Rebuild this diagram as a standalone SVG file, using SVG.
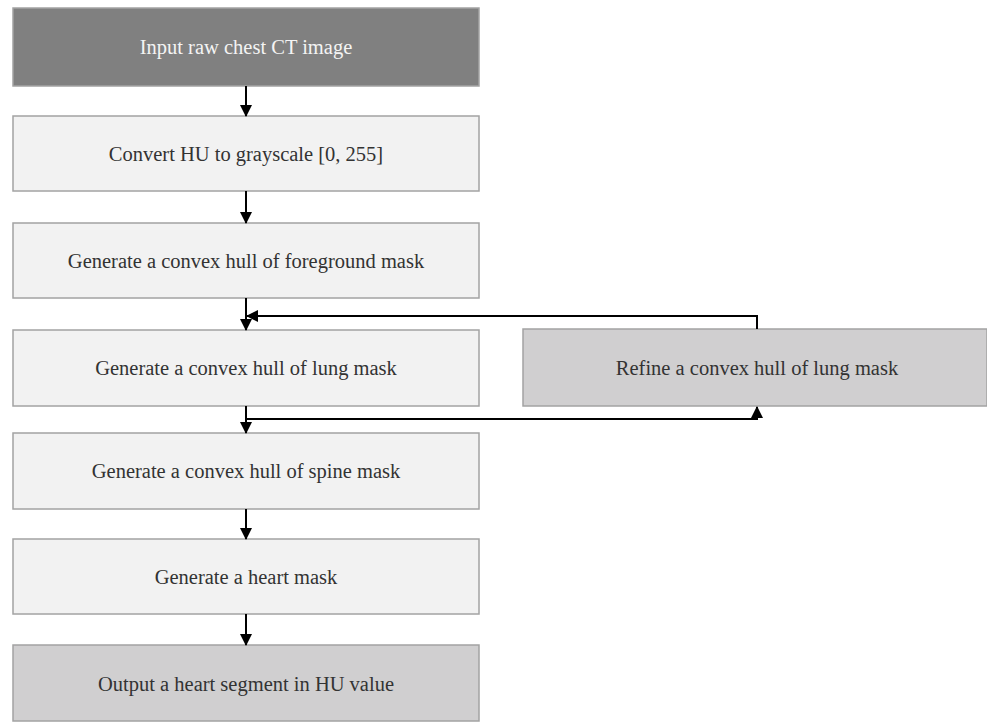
<svg xmlns="http://www.w3.org/2000/svg" width="987" height="722" viewBox="0 0 987 722">
<style>
.box{stroke:#a3a3a3;stroke-width:1.5}
.light{fill:#f2f2f2}
.gray{fill:#d0cfd0}
.dark{fill:#808080}
.t{font-family:"Liberation Serif","DejaVu Serif",serif;font-size:20.5px;text-anchor:middle;fill:#333}
.tw{fill:#f4f4f4}
.c{stroke:#000;stroke-width:2;fill:none}
</style>
<defs>
<marker id="ah" markerWidth="12" markerHeight="12" refX="11" refY="6" orient="auto" markerUnits="userSpaceOnUse">
<path d="M0,0 L12,6 L0,12 Z" fill="#000"/>
</marker>
</defs>
<rect width="987" height="722" fill="#fff"/>
<g id="n1"><rect class="box dark" x="13" y="8" width="466" height="78"/><text class="t tw" x="246" y="54">Input raw chest CT image</text></g>
<g id="n2"><rect class="box light" x="13" y="116" width="466" height="75"/><text class="t" x="246" y="161">Convert HU to grayscale [0, 255]</text></g>
<g id="n3"><rect class="box light" x="13" y="223" width="466" height="75"/><text class="t" x="246" y="268">Generate a convex hull of foreground mask</text></g>
<g id="n4"><rect class="box light" x="13" y="330" width="466" height="76"/><text class="t" x="246" y="375">Generate a convex hull of lung mask</text></g>
<g id="n5"><rect class="box light" x="13" y="433" width="466" height="76"/><text class="t" x="246" y="478">Generate a convex hull of spine mask</text></g>
<g id="n6"><rect class="box light" x="13" y="539" width="466" height="75"/><text class="t" x="246" y="584">Generate a heart mask</text></g>
<g id="n7"><rect class="box gray" x="13" y="645" width="466" height="76"/><text class="t" x="246" y="691">Output a heart segment in HU value</text></g>
<g id="n8"><rect class="box gray" x="523" y="329" width="464" height="77"/><text class="t" x="757" y="375">Refine a convex hull of lung mask</text></g>
<g id="connectors">
<line class="c" x1="246" y1="86" x2="246" y2="116" marker-end="url(#ah)"/>
<line class="c" x1="246" y1="191" x2="246" y2="223" marker-end="url(#ah)"/>
<line class="c" x1="246" y1="298" x2="246" y2="330" marker-end="url(#ah)"/>
<line class="c" x1="246" y1="406" x2="246" y2="433" marker-end="url(#ah)"/>
<line class="c" x1="246" y1="509" x2="246" y2="539" marker-end="url(#ah)"/>
<line class="c" x1="246" y1="614" x2="246" y2="645" marker-end="url(#ah)"/>
<polyline class="c" points="757,329 757,316 247,316" marker-end="url(#ah)"/>
<polyline class="c" points="246,419 757,419 757,407" marker-end="url(#ah)"/>
</g>
</svg>
